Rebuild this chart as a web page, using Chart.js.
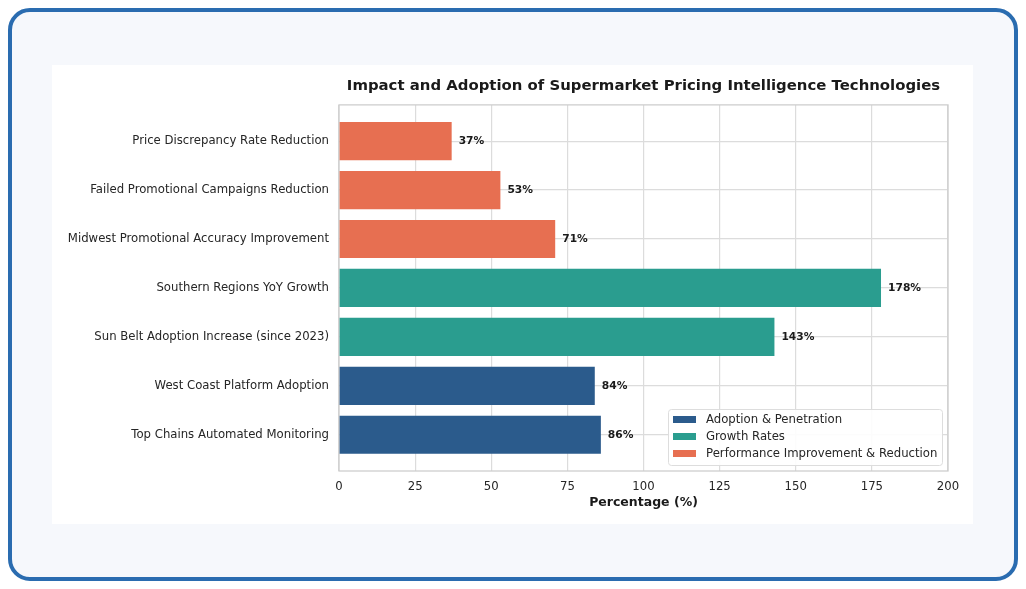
<!DOCTYPE html>
<html>
<head>
<meta charset="utf-8">
<title>Supermarket Pricing Intelligence</title>
<script src="https://cdn.jsdelivr.net/npm/chart.js@4.4.1/dist/chart.umd.min.js"></script>
<style>
    html, body { margin: 0; padding: 0; background: #ffffff; }
    body { width: 1026px; height: 589px; position: relative; overflow: hidden; font-family: "DejaVu Sans", sans-serif; }
    .frame {
        position: absolute; left: 8px; top: 8px; width: 1002px; height: 565px;
        border: 4px solid #2a6cb0; border-radius: 22px; background: #f6f8fc;
    }
    .card { position: absolute; left: 52px; top: 65px; width: 921px; height: 459px; background: #ffffff; }
</style>
</head>
<body>
<div class="frame"></div>
<div class="card"><canvas id="pricingChart" width="921" height="459"></canvas></div>
<script>
// Chart data (top to bottom)
const categories = [
    'Price Discrepancy Rate Reduction',
    'Failed Promotional Campaigns Reduction',
    'Midwest Promotional Accuracy Improvement',
    'Southern Regions YoY Growth',
    'Sun Belt Adoption Increase (since 2023)',
    'West Coast Platform Adoption',
    'Top Chains Automated Monitoring'
];
const values = [37, 53, 71, 178, 143, 84, 86];
const groupOf = [2, 2, 2, 1, 1, 0, 0];
const groupNames = ['Adoption & Penetration', 'Growth Rates', 'Performance Improvement & Reduction'];
const groupColors = ['#2b5b8c', '#2a9d8f', '#e76f51'];
const xTicks = [0, 25, 50, 75, 100, 125, 150, 175, 200];

const FONT = '"DejaVu Sans", sans-serif';

document.addEventListener('DOMContentLoaded', function() {
    const ctx = document.getElementById('pricingChart');

    // one dataset per group so the legend has three entries
    const datasets = groupNames.map(function(name, g) {
        const points = [];
        values.forEach(function(v, i) {
            if (groupOf[i] === g) points.push({ x: v, y: i });
        });
        return {
            label: name,
            data: points,
            backgroundColor: groupColors[g],
            borderWidth: 0,
            grouped: false,
            barPercentage: 0.78,
            categoryPercentage: 1
        };
    });

    // plot frame (all four spines)
    const framePlugin = {
        id: 'frame',
        beforeDatasetsDraw(chart) {
            const a = chart.chartArea;
            const c = chart.ctx;
            c.save();
            c.strokeStyle = '#cccccc';
            c.lineWidth = 1.25;
            c.strokeRect(a.left, a.top, a.right - a.left, a.bottom - a.top);
            c.restore();
        }
    };

    // value labels at the end of each bar
    const valueLabels = {
        id: 'valueLabels',
        afterDatasetsDraw(chart) {
            const c = chart.ctx;
            c.save();
            c.font = 'bold 10.7px ' + FONT;
            c.fillStyle = '#1a1a1a';
            c.textAlign = 'left';
            c.textBaseline = 'middle';
            chart.data.datasets.forEach(function(ds, di) {
                chart.getDatasetMeta(di).data.forEach(function(bar, j) {
                    c.fillText(ds.data[j].x + '%', bar.x + 7, bar.y);
                });
            });
            c.restore();
        }
    };

    // legend inside the plot, lower right
    const innerLegend = {
        id: 'innerLegend',
        afterDatasetsDraw(chart) {
            const c = chart.ctx;
            const a = chart.chartArea;
            const w = 274, h = 56;
            const x = a.right - 6 - w;
            const y = a.bottom - 6 - h;
            c.save();
            c.fillStyle = 'rgba(255,255,255,0.9)';
            c.strokeStyle = '#dddddd';
            c.lineWidth = 1;
            c.beginPath();
            c.roundRect(x + 0.5, y + 0.5, w, h, 3);
            c.fill();
            c.stroke();
            c.font = '11.7px ' + FONT;
            c.textBaseline = 'middle';
            chart.data.datasets.forEach(function(ds, i) {
                const cy = y + 10.5 + i * 17;
                c.fillStyle = ds.backgroundColor;
                c.fillRect(x + 5, cy - 3.5, 23, 7);
                c.fillStyle = '#262626';
                c.fillText(ds.label, x + 38, cy);
            });
            c.restore();
        }
    };

    new Chart(ctx, {
        type: 'bar',
        data: { datasets: datasets },
        options: {
            indexAxis: 'y',
            responsive: false,
            animation: false,
            layout: { padding: { top: 0, right: 25, bottom: 0, left: 0 } },
            plugins: {
                legend: { display: false },
                tooltip: { enabled: false },
                title: {
                    display: true,
                    fullSize: false,
                    text: 'Impact and Adoption of Supermarket Pricing Intelligence Technologies',
                    color: '#1a1a1a',
                    font: { family: FONT, size: 14.9, weight: 'bold' },
                    padding: { top: 12, bottom: 10 }
                }
            },
            scales: {
                x: {
                    type: 'linear',
                    bounds: 'data',
                    offset: false,
                    min: 0,
                    max: 200,
                    afterBuildTicks: function(s) { s.ticks = xTicks.map(v => ({ value: v })); },
                    afterFit: function(s) { s.height = 53; },
                    grid: { color: '#dcdcdc', lineWidth: 1.2, drawTicks: false, offset: false },
                    border: { display: false },
                    ticks: { color: '#262626', font: { family: FONT, size: 11.7 }, padding: 9 },
                    title: {
                        display: true,
                        text: 'Percentage (%)',
                        color: '#1a1a1a',
                        font: { family: FONT, size: 12.5, weight: 'bold' },
                        padding: { top: 2, bottom: 14 }
                    }
                },
                y: {
                    type: 'linear',
                    bounds: 'data',
                    offset: false,
                    reverse: true,
                    min: -0.74,
                    max: 6.74,
                    afterBuildTicks: function(s) { s.ticks = categories.map((c, i) => ({ value: i })); },
                    afterFit: function(s) { s.width = 287; },
                    grid: { color: '#dcdcdc', lineWidth: 1.2, drawTicks: false, offset: false },
                    border: { display: false },
                    ticks: {
                        color: '#262626',
                        font: { family: FONT, size: 11.7 },
                        padding: 10,
                        callback: function(v) { return categories[v]; }
                    }
                }
            }
        },
        plugins: [framePlugin, valueLabels, innerLegend]
    });
});
</script>
</body>
</html>
